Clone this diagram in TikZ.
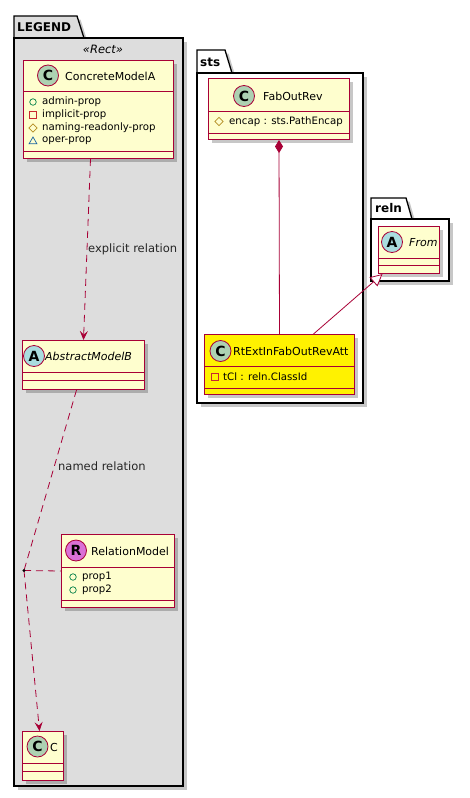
\documentclass[tikz,border=0pt]{standalone}
\usepackage{fontspec}
\setmainfont{DejaVu Sans}
\usetikzlibrary{arrows.meta,shadows,shapes.geometric}
\definecolor{umlborder}{HTML}{A80036}
\definecolor{umlfill}{HTML}{FEFECE}
\definecolor{legendgray}{HTML}{DDDDDD}
\definecolor{spotclass}{HTML}{ADD1B2}
\definecolor{spotabstract}{HTML}{A9DCDF}
\definecolor{spotrel}{HTML}{DA70D6}
\definecolor{vispub}{HTML}{038048}
\definecolor{vispriv}{HTML}{C82930}
\definecolor{visprot}{HTML}{B38D22}
\definecolor{vispkg}{HTML}{1963A0}
\tikzset{
  umlshadow/.style={drop shadow={shadow xshift=3.5pt, shadow yshift=-3.5pt, opacity=0.22, fill=black}},
  pkgshape/.style={draw=black, line width=1.3pt, umlshadow},
  pkgname/.style={anchor=west, inner sep=0pt, font=\fontsize{12}{14}\selectfont\bfseries},
  classbox/.style={draw=umlborder, fill=umlfill, line width=1pt, anchor=north west, inner sep=0pt, umlshadow},
  compline/.style={draw=umlborder, line width=1pt},
  spot/.style={circle, draw=umlborder, line width=0.8pt, minimum size=21pt, inner sep=0pt, font=\fontsize{14}{14}\selectfont\bfseries},
  classname/.style={anchor=west, inner sep=0pt, font=\fontsize{11}{13}\selectfont},
  attr/.style={anchor=west, inner sep=0pt, font=\fontsize{10.2}{12}\selectfont},
  pubicon/.style={circle, draw=vispub, line width=0.7pt, minimum size=6.5pt, inner sep=0pt},
  privicon/.style={rectangle, draw=vispriv, line width=0.7pt, minimum size=6.5pt, inner sep=0pt},
  proticon/.style={diamond, draw=visprot, line width=0.7pt, minimum size=8.5pt, inner sep=0pt},
  pkgicon/.style={regular polygon, regular polygon sides=3, draw=vispkg, line width=0.7pt, minimum size=9pt, inner sep=0pt},
  rellabel/.style={anchor=west, inner sep=0pt, font=\fontsize{11.5}{14}\selectfont, text=black!85},
  dep/.style={draw=umlborder, line width=0.8pt, dash pattern=on 7pt off 5pt},
  deptip/.style={-{Stealth[length=9pt, width=8pt, inset=3.5pt]}},
  solidrel/.style={draw=umlborder, line width=0.8pt}
}
\begin{document}
\begin{tikzpicture}[x=1pt, y=-1pt]
\useasboundingbox (0,0) rectangle (469,798);
% LEGEND package
\draw[pkgshape, fill=legendgray] (14,38) -- (14,16) -- (77,16) -- (84,38) -- cycle;
\draw[pkgshape, fill=legendgray] (14,38) rectangle (183,786);
\node[pkgname] (legendname) at (17,27.5) {LEGEND};
\node[font=\fontsize{11.5}{14}\selectfont\itshape, inner sep=0pt] (stereo) at (103,49) {«Rect»};
% sts package
\draw[pkgshape, fill=white] (197,73) -- (197,50) -- (225,50) -- (232,73) -- cycle;
\draw[pkgshape, fill=white] (197,73) rectangle (363,403);
\node[pkgname] (stsname) at (200,62) {sts};
% reln package
\draw[pkgshape, fill=white] (371,219) -- (371,198) -- (406,198) -- (412,219) -- cycle;
\draw[pkgshape, fill=white] (371,219) rectangle (449,281);
\node[pkgname] (relnname) at (375,208.5) {reln};

% ConcreteModelA
\node[classbox, minimum width=150pt, minimum height=98pt] (concA) at (23,60) {};
\draw[compline] (concA.west |- 0,91) -- (concA.east |- 0,91);
\draw[compline] (concA.west |- 0,151) -- (concA.east |- 0,151);
\node[spot, fill=spotclass] (concAspot) at (48,75.5) {C};
\node[classname] (concAname) at (65,76) {ConcreteModelA};
\node[pubicon] (concAi1) at (33,102) {};
\node[attr] (concAa1) at (42,102) {admin-prop};
\node[privicon] (concAi2) at (33,115) {};
\node[attr] (concAa2) at (42,115) {implicit-prop};
\node[proticon] (concAi3) at (33,128) {};
\node[attr] (concAa3) at (42,128) {naming-readonly-prop};
\node[pkgicon] (concAi4) at (33,141.5) {};
\node[attr] (concAa4) at (42,141) {oper-prop};

% AbstractModelB
\node[classbox, minimum width=122pt, minimum height=49pt] (absB) at (22,340) {};
\draw[compline] (absB.west |- 0,372) -- (absB.east |- 0,372);
\draw[compline] (absB.west |- 0,380) -- (absB.east |- 0,380);
\node[spot, fill=spotabstract] (absBspot) at (34,356) {A};
\node[classname, font=\fontsize{11}{13}\selectfont\itshape] (absBname) at (45,356.5) {AbstractModelB};

% RelationModel
\node[classbox, minimum width=113pt, minimum height=73pt] (relM) at (61,534) {};
\draw[compline] (relM.west |- 0,567) -- (relM.east |- 0,567);
\draw[compline] (relM.west |- 0,600) -- (relM.east |- 0,600);
\node[spot, fill=spotrel] (relMspot) at (76,550.5) {R};
\node[classname] (relMname) at (91,551) {RelationModel};
\node[pubicon] (relMi1) at (73,577) {};
\node[attr] (relMa1) at (82,577) {prop1};
\node[pubicon] (relMi2) at (73,590) {};
\node[attr] (relMa2) at (82,590) {prop2};

% C
\node[classbox, minimum width=41pt, minimum height=49pt] (clsC) at (22,731) {};
\draw[compline] (clsC.west |- 0,763) -- (clsC.east |- 0,763);
\draw[compline] (clsC.west |- 0,771) -- (clsC.east |- 0,771);
\node[spot, fill=spotclass] (clsCspot) at (37.5,746.5) {C};
\node[classname] (clsCname) at (50,747) {C};

% FabOutRev
\node[classbox, minimum width=141pt, minimum height=61pt] (fabOut) at (208,78) {};
\draw[compline] (fabOut.west |- 0,111) -- (fabOut.east |- 0,111);
\draw[compline] (fabOut.west |- 0,133) -- (fabOut.east |- 0,133);
\node[spot, fill=spotclass] (fabOutspot) at (244,96) {C};
\node[classname] (fabOutname) at (263,96.5) {FabOutRev};
\node[proticon] (fabOuti1) at (219,121.5) {};
\node[attr] (fabOuta1) at (229,121.5) {encap : sts.PathEncap};

% RtExtInFabOutRevAtt
\node[classbox, fill=yellow, minimum width=150pt, minimum height=60pt] (rtExt) at (204,334) {};
\draw[compline] (rtExt.west |- 0,366) -- (rtExt.east |- 0,366);
\draw[compline] (rtExt.west |- 0,388) -- (rtExt.east |- 0,388);
\node[spot, fill=spotclass] (rtExtspot) at (220.5,351) {C};
\node[classname] (rtExtname) at (233,351.5) {RtExtInFabOutRevAtt};
\node[privicon] (rtExti1) at (215,377) {};
\node[attr] (rtExta1) at (223,377) {tCl : reln.ClassId};

% From
\node[classbox, minimum width=61pt, minimum height=47pt] (from) at (378,226) {};
\draw[compline] (from.west |- 0,258) -- (from.east |- 0,258);
\draw[compline] (from.west |- 0,265) -- (from.east |- 0,265);
\node[spot, fill=spotabstract] (fromspot) at (392,242) {A};
\node[classname, font=\fontsize{11}{13}\selectfont\itshape] (fromname) at (409,242.5) {From};

% relations
\draw[dep, deptip] ([xshift=-8pt]concA.south) -- (absB.north);
\node[rellabel] (explicitlbl) at (88,249) {explicit relation};
\coordinate (assoc) at (24,570.5);
\draw[dep] ([xshift=-7pt]absB.south) -- (assoc);
\draw[dep] (assoc) -- (relM.west);
\draw[dep, deptip] (assoc) -- ([xshift=-3.5pt]clsC.north);
\fill (assoc) circle (1.6pt);
\node[rellabel] (namedlbl) at (58,466) {named relation};
\draw[solidrel, {Diamond[length=13pt, width=8pt, fill=umlborder]}-] (fabOut.south) -- (rtExt.north);
\draw[solidrel, -{Triangle[open, length=12pt, width=12pt, fill=white]}] ([xshift=34pt]rtExt.north) -- ([xshift=-26.5pt]from.south);
\end{tikzpicture}
\end{document}
